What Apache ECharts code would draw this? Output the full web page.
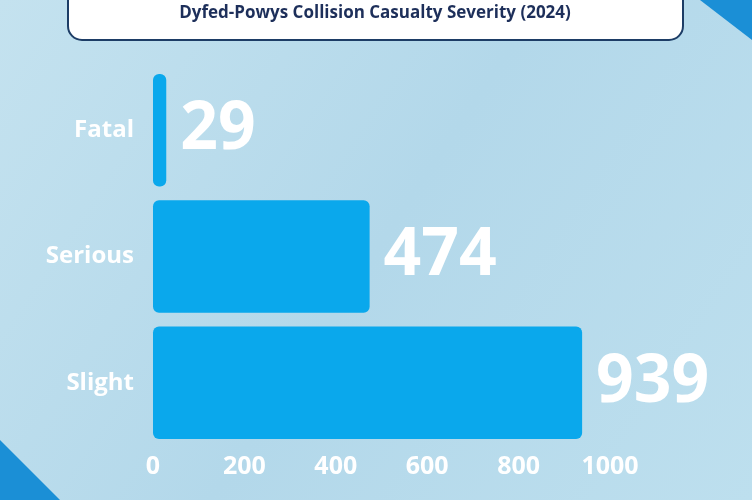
<!DOCTYPE html>
<html><head><meta charset="utf-8">
<script src="https://cdn.jsdelivr.net/npm/echarts@6/dist/echarts.min.js"></script>
<style>html,body{margin:0;padding:0;}#c{width:752px;height:500px;}</style>
</head><body><div id="c"></div>
<script>
const categories = ['Fatal','Serious','Slight'];
const values = [29,474,939];
const ticks = [0,200,400,600,800,1000];
const title = 'Dyfed-Powys Collision Casualty Severity (2024)';

const chart = echarts.init(document.getElementById('c'));
chart.setOption({
  backgroundColor: {type:'linear',x:0,y:0,x2:1,y2:1,colorStops:[{offset:0,color:'#c4e2ef'},{offset:0.5,color:'#b3d8ea'},{offset:1,color:'#bddfee'}]},
  graphic: [
    {type:'polygon',shape:{points:[[0,440],[60,500],[0,500]]},style:{fill:'#1b8fd6'}},
    {type:'polygon',shape:{points:[[700,0],[752,0],[752,40]]},style:{fill:'#1b8fd6'}},
    {type:'rect',shape:{x:68,y:-20,width:615,height:60,r:14},style:{fill:'#ffffff',stroke:'#1d3d66',lineWidth:2}},
    {type:'text',x:375,y:13,style:{text:title,fill:'#1d2f5a',font:'bold 17px "Open Sans", sans-serif',align:'center',verticalAlign:'middle'}}
  ],
  grid:{left:153,right:142,top:67,bottom:54,containLabel:false},
  xAxis:{type:'value',min:0,max:1000,interval:200,
    axisLine:{show:false},axisTick:{show:false},splitLine:{show:false},
    axisLabel:{color:'#ffffff',fontWeight:'bold',fontSize:25,fontFamily:'Open Sans',margin:8,
      formatter:v=>ticks.includes(v)?String(v):''}},
  yAxis:{type:'category',data:categories,inverse:true,
    axisLine:{show:false},axisTick:{show:false},
    axisLabel:{color:'#ffffff',fontWeight:'bold',fontSize:24,fontFamily:'Open Sans',margin:19}},
  series:[{type:'bar',data:values,barWidth:'89%',
    itemStyle:{color:'#0aa8ec',borderRadius:6},
    label:{show:true,position:'right',distance:14,color:'#ffffff',fontWeight:'bold',fontSize:66,fontFamily:'Open Sans'}}]
});
</script></body></html>
